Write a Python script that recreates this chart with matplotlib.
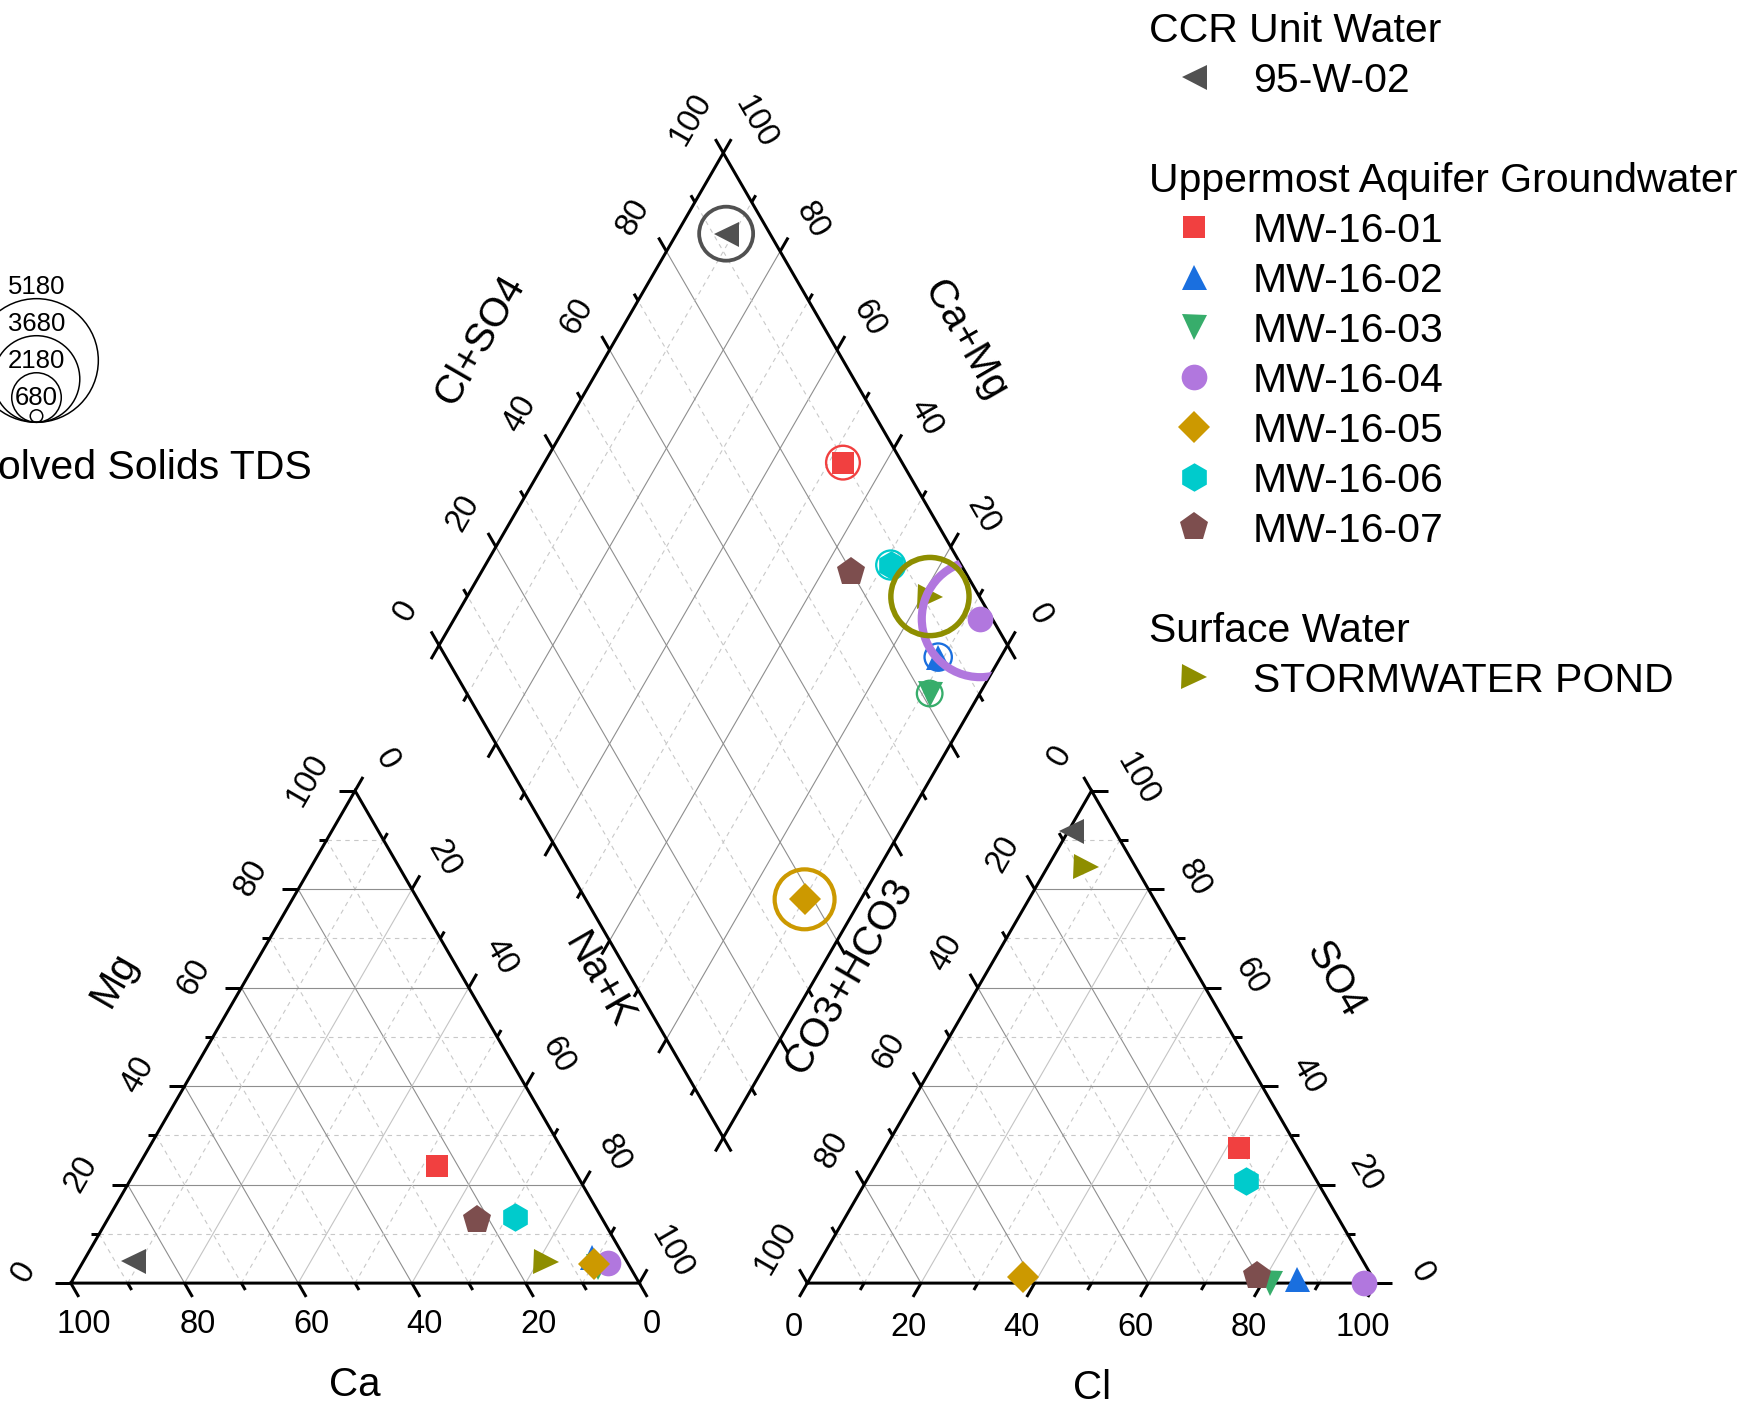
import numpy as np
import matplotlib
matplotlib.use("Agg")
import matplotlib.pyplot as plt
from matplotlib.patches import Circle, Polygon

plt.rcParams['font.family'] = ['Liberation Sans', 'DejaVu Sans']

# ---------------------------------------------------------------- data
samples = ["95-W-02", "MW-16-01", "MW-16-02", "MW-16-03", "MW-16-04",
           "MW-16-05", "MW-16-06", "MW-16-07", "STORMWATER POND"]
group_names = ["CCR Unit Water", "Uppermost Aquifer Groundwater", "Surface Water"]
sample_group = [0, 1, 1, 1, 1, 1, 1, 1, 2]

# cations, % meq
ca = [86.8, 23.8, 5.6, 5.6, 3.5, 6.1, 15.2, 22.1, 14.3]
mg = [4.5, 23.7, 5.4, 3.2, 4.0, 3.8, 13.5, 12.9, 4.3]
na_k = [8.7, 52.5, 89.0, 91.2, 92.5, 90.1, 71.3, 65.0, 81.4]

# anions, % meq
cl = [0.5, 62.2, 85.8, 81.4, 97.9, 37.3, 66.9, 78.4, 6.7]
so4 = [91.8, 27.4, 0.8, 0.0, 0.0, 1.2, 20.7, 1.4, 84.6]
co3_hco3 = [7.7, 10.4, 13.4, 18.6, 2.1, 61.5, 12.4, 20.2, 8.7]

# total dissolved solids, mg/L
tds = [2360, 1540, 1280, 1210, 4910, 2600, 1350, 650, 3340]
tds_legend = [5180, 3680, 2180, 680]

tick_values = [0, 20, 40, 60, 80, 100]

# ---------------------------------------------------------------- styles
colors = ["#515151", "#F14040", "#1A6FDF", "#37AD6B", "#B177DE",
          "#CC9900", "#00CBCC", "#7D4E4E", "#8E8E00"]
markers = ["<", "s", "^", "v", "o", "D", "h", "p", ">"]
msizes = [18, 16.5, 18, 18, 18.5, 16.3, 20.5, 21, 18]

PT = 0.72  # points per pixel at 100 dpi
W, Hfig = 1748, 1408

fig = plt.figure(figsize=(W / 100, Hfig / 100), dpi=100)
ax = fig.add_axes([0, 0, 1, 1])
ax.set_xlim(0, W)
ax.set_ylim(Hfig, 0)
ax.axis('off')

# ---------------------------------------------------------------- geometry
SIDE = 568.5
GAP = 168.0
H = SIDE * np.sqrt(3) / 2
A = np.array([70.8, 1283.1])          # Ca 100
B = A + [SIDE, 0]                      # Na+K 100
C = A + [SIDE / 2, -H]                 # Mg 100
D = A + [SIDE + GAP, 0]                # CO3+HCO3 100
E = D + [SIDE, 0]                      # Cl 100
F = D + [SIDE / 2, -H]                 # SO4 100
DB = (B + D) / 2 + [0, -GAP * np.sqrt(3) / 2]
DR = DB + [SIDE / 2, -H]
DL = DB + [-SIDE / 2, -H]
DT = DL + DR - DB


def cat_xy(c, m, n):
    return (A * c + C * m + B * n) / 100.0


def an_xy(h, c, s):
    return (D * h + E * c + F * s) / 100.0


def dia_xy(camg, clso4):
    return DB + clso4 / 100.0 * (DR - DB) + camg / 100.0 * (DL - DB)


DARK = "#8e8e8e"
LIGHT = "#c4c4c4"
DASH = "#c8c8c8"


def grid_line(p, q, v, color):
    if v % 20 == 0:
        ax.plot([p[0], q[0]], [p[1], q[1]], color=color, lw=0.8, zorder=1)
    else:
        ax.plot([p[0], q[0]], [p[1], q[1]], color=DASH, lw=0.8,
                ls=(0, (4, 4)), zorder=1)


for v in range(10, 100, 10):
    # cation triangle
    grid_line(cat_xy(100 - v, v, 0), cat_xy(0, v, 100 - v), v, DARK)
    grid_line(cat_xy(v, 100 - v, 0), cat_xy(v, 0, 100 - v), v, DARK)
    grid_line(cat_xy(100 - v, 0, v), cat_xy(0, 100 - v, v), v, LIGHT)
    # anion triangle
    grid_line(an_xy(100 - v, 0, v), an_xy(0, 100 - v, v), v, DARK)
    grid_line(an_xy(v, 0, 100 - v), an_xy(v, 100 - v, 0), v, DARK)
    grid_line(an_xy(100 - v, v, 0), an_xy(0, v, 100 - v), v, LIGHT)
    # diamond
    grid_line(dia_xy(v, 0), dia_xy(v, 100), v, DARK)
    grid_line(dia_xy(0, v), dia_xy(100, v), v, DARK)

FRAME_LW = 3 * PT
for poly in ([A, B, C], [D, E, F], [DB, DR, DT, DL]):
    pts = np.array(poly + [poly[0]])
    ax.plot(pts[:, 0], pts[:, 1], color='black', lw=FRAME_LW,
            solid_joinstyle='miter', zorder=3)

s3 = np.sqrt(3) / 2
DIRS = {
    'dr': np.array([0.5, s3]), 'dl': np.array([-0.5, s3]),
    'ur': np.array([0.5, -s3]), 'ul': np.array([-0.5, -s3]),
    'l': np.array([-1.0, 0.0]), 'r': np.array([1.0, 0.0]),
}

TICK_FS = 23.5


def draw_axis(fn, direction, offset=None, rotation=0):
    d = DIRS[direction]
    for v in range(0, 101, 10):
        p = fn(v)
        length = 16 if v % 20 == 0 else 8
        q = p + d * length
        ax.plot([p[0], q[0]], [p[1], q[1]], color='black', lw=FRAME_LW,
                solid_capstyle='butt', zorder=3)
    if offset is not None:
        for v in tick_values:
            p = fn(v)
            ax.text(p[0] + offset[0], p[1] + offset[1], str(v),
                    fontsize=TICK_FS, rotation=rotation,
                    ha='center', va='center', zorder=3)


# cation triangle axes
draw_axis(lambda v: cat_xy(v, 0, 100 - v), 'dr', (13, 41), 0)
draw_axis(lambda v: cat_xy(100 - v, v, 0), 'l', (-47, -11), 60)
draw_axis(lambda v: cat_xy(0, 100 - v, v), 'ur', (32, -31), -60)
# anion triangle axes
draw_axis(lambda v: an_xy(100 - v, v, 0), 'dl', (-13, 44), 0)
draw_axis(lambda v: an_xy(0, 100 - v, v), 'r', (46, -11), -60)
draw_axis(lambda v: an_xy(v, 0, 100 - v), 'ul', (-32, -35), 60)
# diamond axes
draw_axis(lambda v: dia_xy(100, v), 'ul', (-33, -34), 60)
draw_axis(lambda v: dia_xy(v, 100), 'ur', (32, -31), -60)
draw_axis(lambda v: dia_xy(v, 0), 'dl')
draw_axis(lambda v: dia_xy(0, v), 'dr')

TITLE_FS = 29
axis_titles = [
    ("Ca", (354.5, 1385), 0), ("Cl", (1092.5, 1388), 0),
    ("Mg", (114.5, 979), 60), ("Na+K", (598.5, 981), -60),
    ("CO3+HCO3", (849.5, 975.5), 60), ("SO4", (1334.5, 979), -60),
    ("Cl+SO4", (479.5, 340), 60), ("Ca+Mg", (965.5, 340), -60),
]
for txt, (x, y), rot in axis_titles:
    ax.text(x, y, txt, fontsize=TITLE_FS, rotation=rot,
            ha='center', va='center')

# ---------------------------------------------------------------- samples
diamond_clip = Polygon([DB, DR, DT, DL], closed=True, transform=ax.transData)


def tds_diameter(t):
    return 0.0247 * t - 4.3


for i, name in enumerate(samples):
    pc = cat_xy(ca[i], mg[i], na_k[i])
    pa = an_xy(co3_hco3[i], cl[i], so4[i])
    pd = dia_xy(ca[i] + mg[i], cl[i] + so4[i])
    xs = [pc[0], pa[0], pd[0]]
    ys = [pc[1], pa[1], pd[1]]
    ax.plot(xs, ys, ls='none', marker=markers[i], ms=msizes[i],
            color=colors[i], markeredgewidth=0, zorder=4 + i * 0.01)
    dia = tds_diameter(tds[i])
    lw_px = max(2.3, 0.07 * dia)
    circ = Circle(pd, dia / 2, fill=False, edgecolor=colors[i],
                  lw=lw_px * PT, zorder=5 + i * 0.01)
    ax.add_patch(circ)
    circ.set_clip_path(diamond_clip)

# ---------------------------------------------------------------- TDS size legend
cx, base_y = 36.5, 422.3
for t in tds_legend:
    dia = tds_diameter(t)
    ax.add_patch(Circle((cx, base_y - dia / 2), dia / 2, fill=False,
                        edgecolor='black', lw=1.5 * PT, zorder=3,
                        clip_on=False))
    ax.text(cx, base_y - dia - 5, str(t), fontsize=18.5, ha='center',
            va='baseline', zorder=3)
ax.text(312, 479, "Total Dissolved Solids TDS", fontsize=29.5,
        ha='right', va='baseline')

# ---------------------------------------------------------------- sample legend
LEG_FS = 29.5
header_x, marker_x, label_x = 1149, 1194, 1253
row_y = 41.7
for g, gname in enumerate(group_names):
    ax.text(header_x, row_y, gname, fontsize=LEG_FS, ha='left', va='baseline')
    row_y += 50
    for i, name in enumerate(samples):
        if sample_group[i] != g:
            continue
        ax.plot([marker_x], [row_y - 15], ls='none', marker=markers[i],
                ms=msizes[i], color=colors[i], markeredgewidth=0,
                clip_on=False)
        ax.text(label_x, row_y, name, fontsize=LEG_FS, ha='left',
                va='baseline')
        row_y += 50
    row_y += 50

fig.savefig("out.png", dpi=100)
